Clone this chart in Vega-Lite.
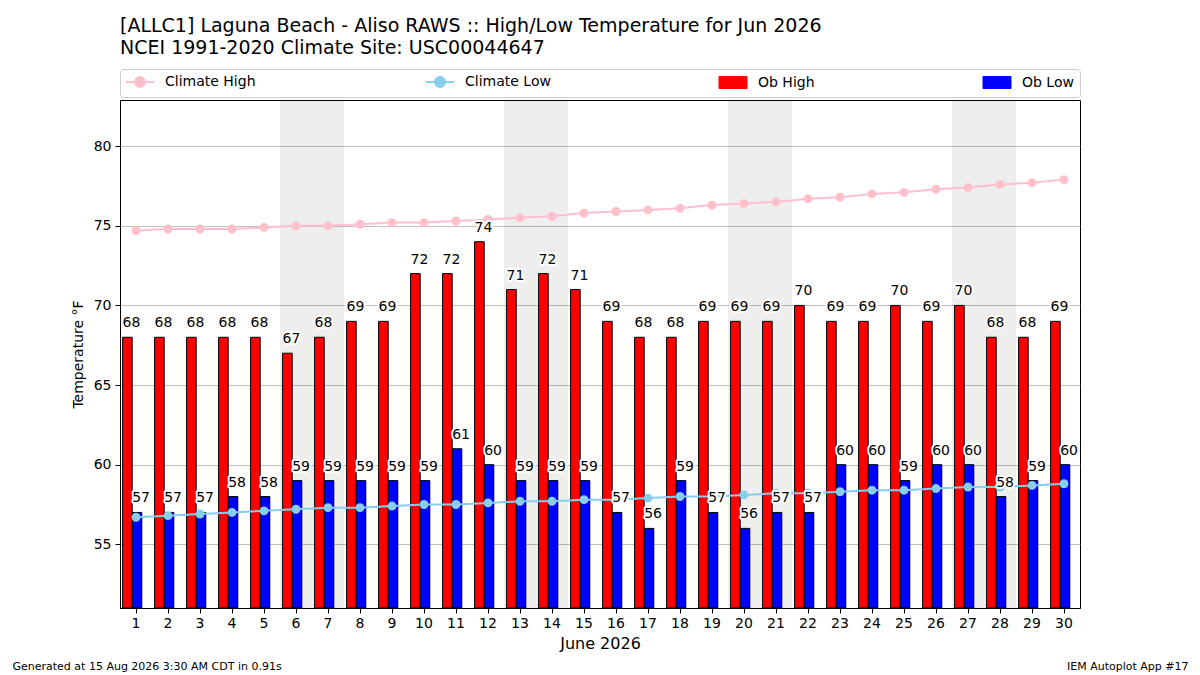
{
  "$schema": "https://vega.github.io/schema/vega-lite/v6.json",
  "width": 960,
  "height": 508,
  "autosize": {"type": "none"},
  "padding": {"left": 120, "top": 100, "right": 120, "bottom": 67},
  "background": "white",
  "title": {
    "text": [
      "[ALLC1] Laguna Beach - Aliso RAWS :: High/Low Temperature for Jun 2026",
      "NCEI 1991-2020 Climate Site: USC00044647"
    ],
    "anchor": "start",
    "frame": "group",
    "font": "DejaVu Sans",
    "fontSize": 19,
    "fontWeight": "normal",
    "color": "black",
    "lineHeight": 22,
    "offset": 11
  },
  "data": {
    "values": [
      {"day": 1, "high": 68, "low": 57, "clim_high": 74.7, "clim_low": 56.7},
      {"day": 2, "high": 68, "low": 57, "clim_high": 74.8, "clim_low": 56.8},
      {"day": 3, "high": 68, "low": 57, "clim_high": 74.8, "clim_low": 56.9},
      {"day": 4, "high": 68, "low": 58, "clim_high": 74.8, "clim_low": 57.0},
      {"day": 5, "high": 68, "low": 58, "clim_high": 74.9, "clim_low": 57.1},
      {"day": 6, "high": 67, "low": 59, "clim_high": 75.0, "clim_low": 57.2},
      {"day": 7, "high": 68, "low": 59, "clim_high": 75.0, "clim_low": 57.3},
      {"day": 8, "high": 69, "low": 59, "clim_high": 75.1, "clim_low": 57.3},
      {"day": 9, "high": 69, "low": 59, "clim_high": 75.2, "clim_low": 57.4},
      {"day": 10, "high": 72, "low": 59, "clim_high": 75.2, "clim_low": 57.5},
      {"day": 11, "high": 72, "low": 61, "clim_high": 75.3, "clim_low": 57.5},
      {"day": 12, "high": 74, "low": 60, "clim_high": 75.4, "clim_low": 57.6},
      {"day": 13, "high": 71, "low": 59, "clim_high": 75.5, "clim_low": 57.7},
      {"day": 14, "high": 72, "low": 59, "clim_high": 75.6, "clim_low": 57.7},
      {"day": 15, "high": 71, "low": 59, "clim_high": 75.8, "clim_low": 57.8},
      {"day": 16, "high": 69, "low": 57, "clim_high": 75.9, "clim_low": 57.8},
      {"day": 17, "high": 68, "low": 56, "clim_high": 76.0, "clim_low": 57.9},
      {"day": 18, "high": 68, "low": 59, "clim_high": 76.1, "clim_low": 58.0},
      {"day": 19, "high": 69, "low": 57, "clim_high": 76.3, "clim_low": 58.0},
      {"day": 20, "high": 69, "low": 56, "clim_high": 76.4, "clim_low": 58.1},
      {"day": 21, "high": 69, "low": 57, "clim_high": 76.5, "clim_low": 58.2},
      {"day": 22, "high": 70, "low": 57, "clim_high": 76.7, "clim_low": 58.2},
      {"day": 23, "high": 69, "low": 60, "clim_high": 76.8, "clim_low": 58.3},
      {"day": 24, "high": 69, "low": 60, "clim_high": 77.0, "clim_low": 58.4},
      {"day": 25, "high": 70, "low": 59, "clim_high": 77.1, "clim_low": 58.4},
      {"day": 26, "high": 69, "low": 60, "clim_high": 77.3, "clim_low": 58.5},
      {"day": 27, "high": 70, "low": 60, "clim_high": 77.4, "clim_low": 58.6},
      {"day": 28, "high": 68, "low": 58, "clim_high": 77.6, "clim_low": 58.6},
      {"day": 29, "high": 68, "low": 59, "clim_high": 77.7, "clim_low": 58.7},
      {"day": 30, "high": 69, "low": 60, "clim_high": 77.9, "clim_low": 58.8}
    ]
  },
  "layer": [
    {
      "transform": [{"filter": "day(datetime(2026, 5, datum.day)) % 6 == 0"}],
      "mark": {"type": "rect", "fill": "black", "opacity": 0.067},
      "encoding": {
        "x": {"field": "day", "type": "ordinal", "axis": null}
      }
    },
    {
      "transform": [{"fold": ["high", "low"], "as": ["series", "temp"]}],
      "mark": {"type": "bar", "stroke": "black", "strokeWidth": 1},
      "encoding": {
        "x": {
          "field": "day",
          "type": "ordinal",
          "scale": {"paddingInner": 0, "paddingOuter": 0},
          "axis": {
            "orient": "bottom",
            "title": "June 2026",
            "titleFontSize": 16,
            "titlePadding": 5,
            "labelAngle": 0,
            "labelPadding": 3
          }
        },
        "xOffset": {
          "field": "series",
          "type": "nominal",
          "scale": {"domain": ["high", "low"], "range": [2.6, 21.8], "paddingInner": 0, "paddingOuter": 0}
        },
        "y": {
          "field": "temp",
          "type": "quantitative",
          "scale": {"domain": [51, 82.9], "nice": false, "zero": false},
          "axis": {
            "orient": "left",
            "values": [55, 60, 65, 70, 75, 80],
            "grid": true,
            "gridColor": "#b0b0b0",
            "gridWidth": 0.8,
            "title": "Temperature °F",
            "titlePadding": 8,
            "labelPadding": 4
          }
        },
        "y2": {"datum": 51},
        "color": {
          "field": "series",
          "type": "nominal",
          "scale": {
            "domain": ["clim_high", "clim_low", "high", "low"],
            "range": ["pink", "skyblue", "red", "blue"]
          },
          "legend": {
            "orient": "none",
            "legendX": 0,
            "legendY": -31,
            "direction": "horizontal",
            "title": null,
            "labelExpr": "datum.label == 'clim_high' ? 'Climate High' : datum.label == 'clim_low' ? 'Climate Low' : datum.label == 'high' ? 'Ob High' : 'Ob Low'",
            "symbolSize": 196,
            "symbolType": {"expr": "indexof(['high', 'low'], datum.value) >= 0 ? 'M-1,-0.857H3V0.857H-1Z' : 'M-1,0H3M0.286,0A0.714,0.714 0 1,1 1.714,0A0.714,0.714 0 1,1 0.286,0Z'"},
            "symbolStrokeWidth": {"expr": "indexof(['high', 'low'], datum.value) >= 0 ? 1 : 2"},
            "symbolOpacity": 1,
            "labelOffset": 25,
            "columnPadding": 166,
            "padding": 6,
            "strokeColor": "#cccccc",
            "cornerRadius": 3,
            "fillColor": "white"
          }
        }
      }
    },
    {
      "transform": [{"fold": ["clim_high", "clim_low"], "as": ["series", "temp"]}],
      "mark": {"type": "line", "strokeWidth": 2},
      "encoding": {
        "x": {"field": "day", "type": "ordinal", "axis": null},
        "y": {
          "field": "temp",
          "type": "quantitative",
          "axis": {
            "orient": "right",
            "domain": false,
            "ticks": false,
            "labels": false,
            "grid": false,
            "title": "IEM Autoplot App #17",
            "titleAngle": 0,
            "titleX": 108,
            "titleY": 569,
            "titleAlign": "right",
            "titleBaseline": "alphabetic",
            "titleFontSize": 11
          }
        },
        "color": {"field": "series", "type": "nominal"}
      }
    },
    {
      "transform": [{"fold": ["clim_high", "clim_low"], "as": ["series", "temp"]}],
      "mark": {"type": "point", "filled": true, "size": 80, "opacity": 1},
      "encoding": {
        "x": {
          "field": "day",
          "type": "ordinal",
          "axis": {
            "orient": "top",
            "domain": false,
            "ticks": false,
            "labels": false,
            "grid": false,
            "title": "Generated at 15 Aug 2026 3:30 AM CDT in 0.91s",
            "titleX": -108,
            "titleY": 569,
            "titleAlign": "left",
            "titleBaseline": "alphabetic",
            "titleFontSize": 11
          }
        },
        "y": {"field": "temp", "type": "quantitative", "axis": null},
        "color": {"field": "series", "type": "nominal"}
      }
    },
    {
      "transform": [{"fold": ["high", "low"], "as": ["series", "temp"]}],
      "mark": {
        "type": "text",
        "align": "left",
        "baseline": "alphabetic",
        "dx": -4.8,
        "dy": -10,
        "fontSize": 14,
        "font": "DejaVu Sans",
        "fill": "white",
        "stroke": "white",
        "strokeWidth": 4,
        "strokeJoin": "round"
      },
      "encoding": {
        "x": {"field": "day", "type": "ordinal", "axis": null},
        "xOffset": {"field": "series", "type": "nominal"},
        "y": {"field": "temp", "type": "quantitative", "axis": null},
        "text": {"field": "temp", "type": "quantitative"}
      }
    },
    {
      "transform": [{"fold": ["high", "low"], "as": ["series", "temp"]}],
      "mark": {
        "type": "text",
        "align": "left",
        "baseline": "alphabetic",
        "dx": -4.8,
        "dy": -10,
        "fontSize": 14,
        "font": "DejaVu Sans",
        "fill": "black"
      },
      "encoding": {
        "x": {"field": "day", "type": "ordinal", "axis": null},
        "xOffset": {"field": "series", "type": "nominal"},
        "y": {"field": "temp", "type": "quantitative", "axis": null},
        "text": {"field": "temp", "type": "quantitative"}
      }
    }
  ],
  "resolve": {"axis": {"x": "independent", "y": "independent"}},
  "config": {
    "font": "DejaVu Sans",
    "view": {"stroke": "black", "strokeWidth": 1},
    "axis": {
      "labelFont": "DejaVu Sans",
      "titleFont": "DejaVu Sans",
      "labelColor": "black",
      "titleColor": "black",
      "domainColor": "black",
      "tickColor": "black",
      "labelFontSize": 14,
      "titleFontSize": 14,
      "titleFontWeight": "normal",
      "tickSize": 5,
      "grid": false
    },
    "legend": {
      "labelFont": "DejaVu Sans",
      "labelFontSize": 14,
      "labelColor": "black"
    }
  }
}
